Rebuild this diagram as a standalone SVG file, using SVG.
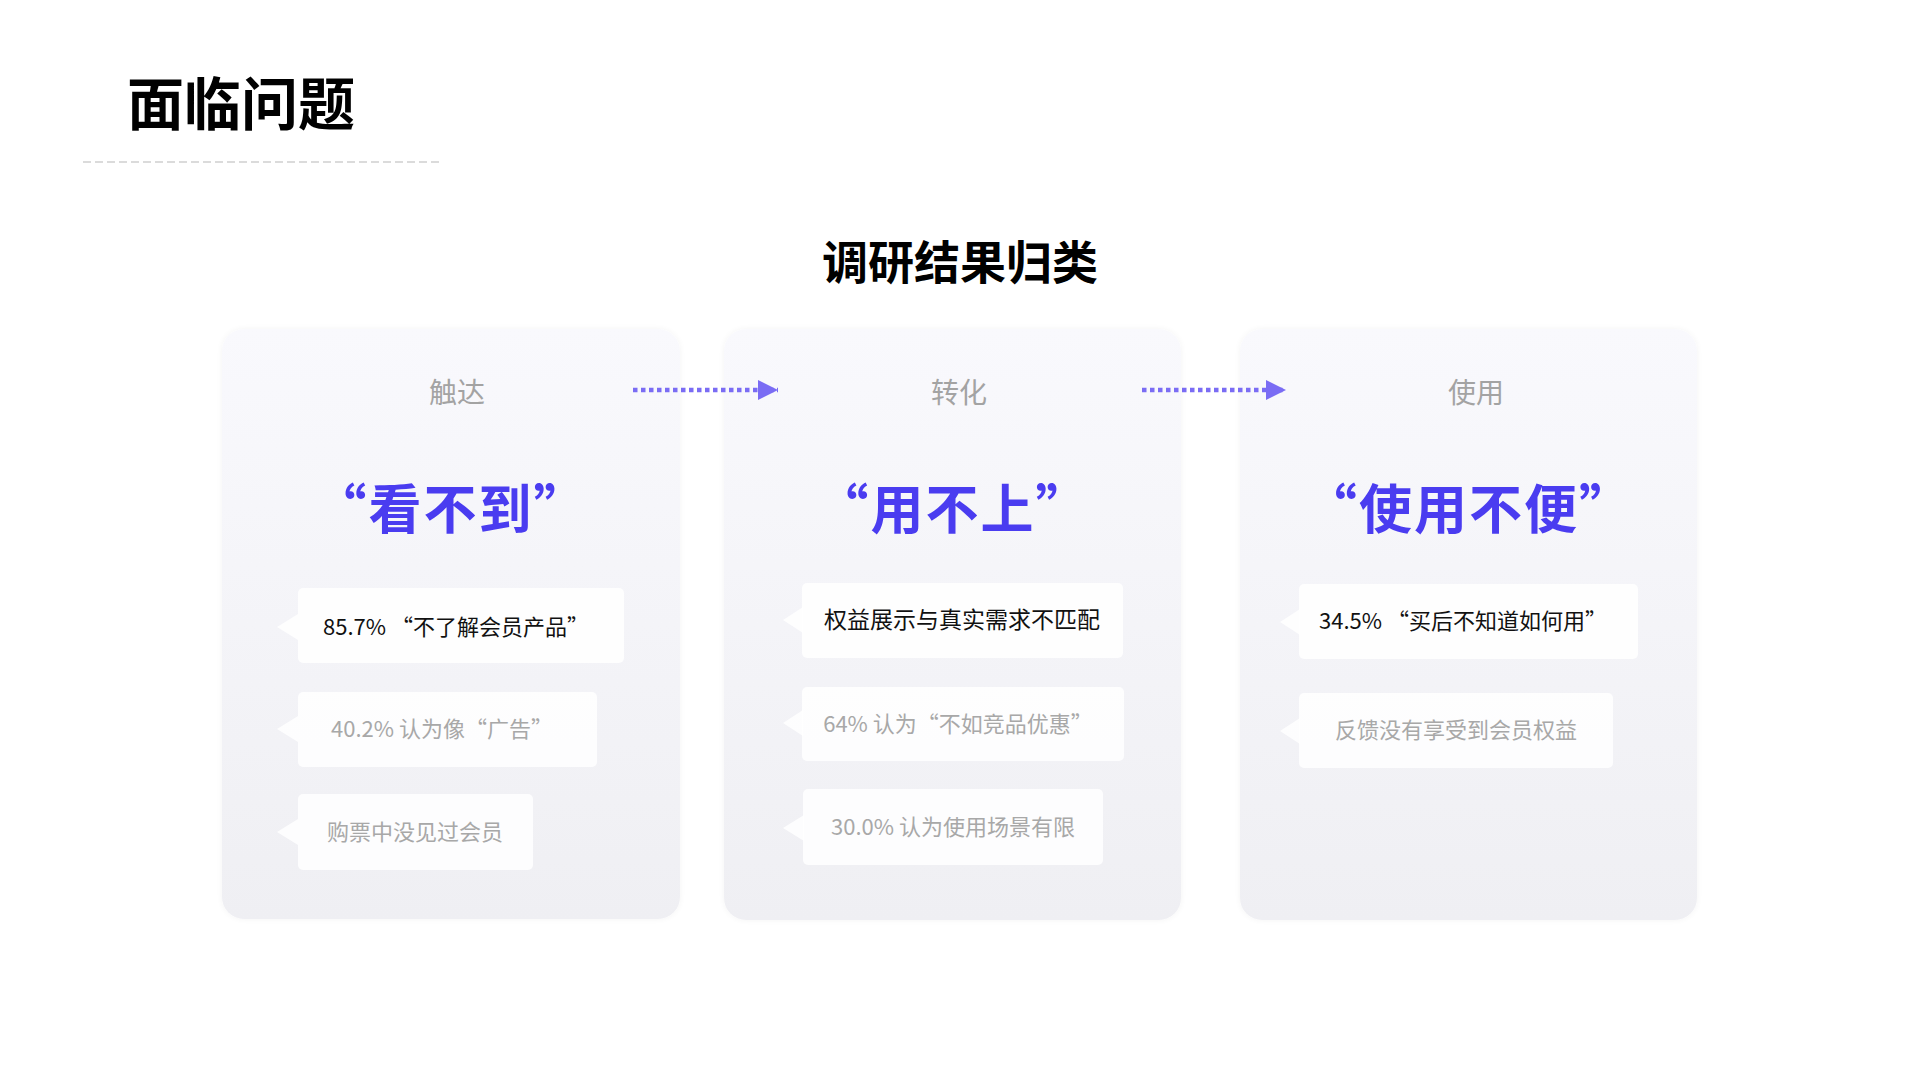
<svg xmlns="http://www.w3.org/2000/svg" width="1920" height="1080" viewBox="0 0 1920 1080">
<style>
.cjk{font-family:"Noto Sans CJK SC","Noto Sans",sans-serif}
.title{font-size:57px;font-weight:700;fill:#000}
.sub{font-size:46px;font-weight:700;fill:#000;text-anchor:middle}
.head{font-size:28px;fill:#a3a3a3;text-anchor:middle}
.big{font-size:53px;font-weight:700;fill:#4a3cf0;text-anchor:middle;letter-spacing:2px}
.t1{font-size:22px;fill:#111;text-anchor:middle}
.t2{font-size:22px;fill:#a8a8a8;text-anchor:middle}
.card{fill:url(#cg);filter:url(#cs)}
.bub{fill:#ffffff;fill-opacity:0.85}
.conn{stroke:#7a6cf4;stroke-width:4.5;stroke-dasharray:4.5 3.5;fill:none}
</style>
<defs>
<linearGradient id="cg" x1="0" y1="0" x2="0" y2="1">
<stop offset="0" stop-color="#f9f9fd"/>
<stop offset="1" stop-color="#efeff3"/>
</linearGradient>
<filter id="cs" x="-5%" y="-5%" width="110%" height="110%">
<feGaussianBlur in="SourceAlpha" stdDeviation="3"/>
<feComponentTransfer><feFuncA type="linear" slope="0.05"/></feComponentTransfer>
<feMerge><feMergeNode/><feMergeNode in="SourceGraphic"/></feMerge>
</filter>
<marker id="ah" markerWidth="20" markerHeight="20" viewBox="0 0 20 20" refX="20" refY="10" orient="auto" markerUnits="userSpaceOnUse">
<path d="M0,0 L20,10 L0,20 Z" fill="#7a6cf4"/>
</marker>
</defs>
<rect width="1920" height="1080" fill="#ffffff"/>

<g id="header">
<text class="cjk title" x="127" y="125">面临问题</text>
<line x1="83" y1="162" x2="442" y2="162" stroke="#cfcfcf" stroke-width="1.5" stroke-dasharray="8 4"/>
<text class="cjk sub" x="960" y="279">调研结果归类</text>
</g>

<g id="card-reach">
<rect class="card" x="222" y="329" width="458" height="590" rx="22"/>
<text class="cjk head" x="457" y="403">触达</text>
<text class="cjk big" x="451" y="529">“看不到”</text>
<g>
<path class="bub" d="M277,627 L298,614 L298,640 Z"/>
<rect class="bub" x="298" y="588" width="326" height="75" rx="5"/>
<text class="cjk t1" x="456" y="635">85.7% “不了解会员产品”</text>
</g>
<g>
<path class="bub" d="M277,729 L298,716 L298,742 Z"/>
<rect class="bub" x="298" y="692" width="299" height="75" rx="5"/>
<text class="cjk t2" x="442" y="737">40.2%  认为像“广告”</text>
</g>
<g>
<path class="bub" d="M277,832 L298,819 L298,845 Z"/>
<rect class="bub" x="298" y="794" width="235" height="76" rx="5"/>
<text class="cjk t2" x="415" y="840">购票中没见过会员</text>
</g>
</g>

<g id="card-convert">
<rect class="card" x="724" y="329" width="457" height="591" rx="22"/>
<text class="cjk head" x="959" y="403">转化</text>
<text class="cjk big" x="953" y="529">“用不上”</text>
<g>
<path class="bub" d="M783,620 L803,607 L803,633 Z"/>
<rect class="bub" x="802" y="583" width="321" height="75" rx="5"/>
<text class="cjk t1" x="962" y="628" style="font-size:23px">权益展示与真实需求不匹配</text>
</g>
<g>
<path class="bub" d="M783,723 L803,710 L803,736 Z"/>
<rect class="bub" x="802" y="687" width="322" height="74" rx="5"/>
<text class="cjk t2" x="958" y="732">64% 认为“不如竞品优惠”</text>
</g>
<g>
<path class="bub" d="M783,828 L804,815 L804,841 Z"/>
<rect class="bub" x="803" y="789" width="300" height="76" rx="5"/>
<text class="cjk t2" x="953" y="835">30.0% 认为使用场景有限</text>
</g>
</g>

<g id="card-use">
<rect class="card" x="1240" y="329" width="457" height="591" rx="22"/>
<text class="cjk head" x="1476" y="403">使用</text>
<text class="cjk big" x="1469" y="529">“使用不便”</text>
<g>
<path class="bub" d="M1280,622 L1300,609 L1300,635 Z"/>
<rect class="bub" x="1299" y="584" width="339" height="75" rx="5"/>
<text class="cjk t1" x="1463" y="629">34.5% “买后不知道如何用”</text>
</g>
<g>
<path class="bub" d="M1280,731 L1300,718 L1300,744 Z"/>
<rect class="bub" x="1299" y="693" width="314" height="75" rx="5"/>
<text class="cjk t2" x="1456" y="738">反馈没有享受到会员权益</text>
</g>
</g>

<g id="connectors">
<line class="conn" x1="633" y1="390" x2="778" y2="390" marker-end="url(#ah)"/>
<line class="conn" x1="1142" y1="390" x2="1286" y2="390" marker-end="url(#ah)"/>
</g>
</svg>
